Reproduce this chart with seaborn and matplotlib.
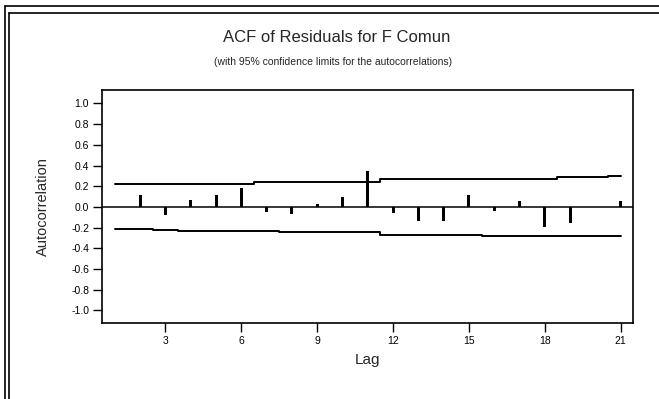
import matplotlib.pyplot as plt
import pandas as pd
import seaborn as sns
from matplotlib.lines import Line2D

# values
lags = list(range(1, 22))
acf = [0.0, 0.119, -0.075, 0.07, 0.119, 0.184, -0.048, -0.065, 0.03, 0.097, 0.344,
       -0.058, -0.137, -0.137, 0.119, -0.036, 0.058, -0.195, -0.158, 0.0, 0.054]
upper = [0.225, 0.225, 0.222, 0.222, 0.223, 0.224, 0.243, 0.243, 0.244, 0.244, 0.245,
         0.268, 0.268, 0.269, 0.270, 0.271, 0.271, 0.272, 0.292, 0.293, 0.294]
lower = [-0.218, -0.218, -0.228, -0.229, -0.230, -0.232, -0.238, -0.239, -0.240, -0.240, -0.241,
         -0.270, -0.271, -0.273, -0.274, -0.281, -0.282, -0.283, -0.283, -0.283, -0.283]
yticks = [-1.0, -0.8, -0.6, -0.4, -0.2, 0.0, 0.2, 0.4, 0.6, 0.8, 1.0]
ytick_labels = ['-1.0', '-0.8', '-0.6', '-0.4', '-0.2', '0.0', '0.2', '0.4', '0.6', '0.8', '1.0']
xticks = [3, 6, 9, 12, 15, 18, 21]

data = pd.DataFrame({'lag': lags, 'acf': acf, 'upper': upper, 'lower': lower})

sns.set_style('ticks')
plt.rcParams['font.family'] = ['Liberation Sans', 'DejaVu Sans']

fig = plt.figure(figsize=(6.59, 3.99), dpi=100)
ax = fig.add_axes([0.1552, 0.1912, 0.8058, 0.5832])

ax.axhline(0, color='black', lw=1.1, zorder=1)
sns.barplot(data=data, x='lag', y='acf', native_scale=True, width=0.12,
            color='black', linewidth=0, saturation=1, ax=ax)
sns.lineplot(data=data, x='lag', y='upper', color='black', lw=1.4,
             drawstyle='steps-mid', ax=ax)
sns.lineplot(data=data, x='lag', y='lower', color='black', lw=1.4,
             drawstyle='steps-mid', ax=ax)

ax.set_xlim(0.5, 21.5)
ax.set_ylim(-1.12, 1.13)
ax.set_xticks(xticks)
ax.set_xticklabels([str(t) for t in xticks])
ax.set_yticks(yticks)
ax.set_yticklabels(ytick_labels)
ax.tick_params(direction='out', length=6.5, width=1, labelsize=7.5, pad=3, colors='black')

for s in ax.spines.values():
    s.set_visible(True)
    s.set_color('black')
    s.set_linewidth(1.2)

ax.set_xlabel('Lag', fontsize=11, va='center')
ax.xaxis.set_label_coords(0.5, -0.16)
ax.set_ylabel('Autocorrelation', fontsize=10.5, va='center')
ax.yaxis.set_label_coords(-0.1126, 0.5)

fig.text(0.511, 0.905, 'ACF of Residuals for F Comun', ha='center', va='center', fontsize=12)
fig.text(0.506, 0.845, '(with 95% confidence limits for the autocorrelations)',
         ha='center', va='center', fontsize=7.5)

# page frame around the chart
fig.add_artist(Line2D([0.0076, 0.0076], [0.0, 0.985], color='black', lw=1.2, transform=fig.transFigure))
fig.add_artist(Line2D([0.0137, 0.0137], [0.0, 0.967], color='black', lw=1.2, transform=fig.transFigure))
fig.add_artist(Line2D([0.0076, 1.0], [0.985, 0.985], color='black', lw=1.2, transform=fig.transFigure))
fig.add_artist(Line2D([0.0137, 1.0], [0.967, 0.967], color='black', lw=1.2, transform=fig.transFigure))

fig.savefig('out.png', dpi=100)
